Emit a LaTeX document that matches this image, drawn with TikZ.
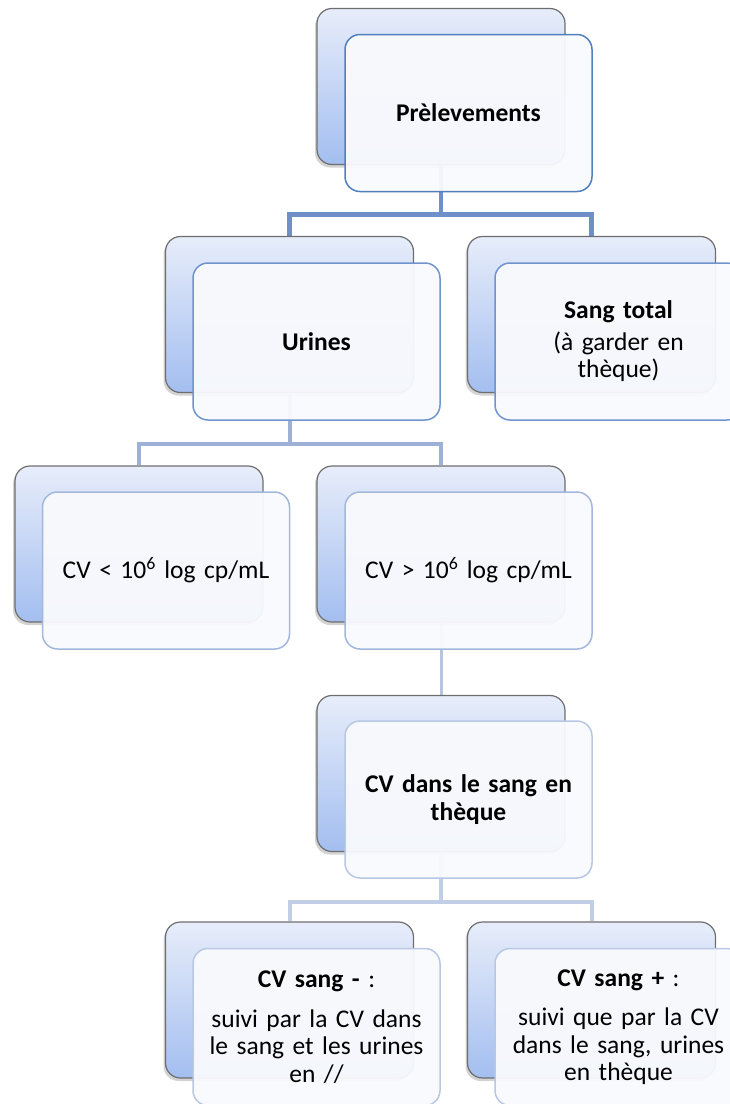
\documentclass[tikz,border=0pt]{standalone}
\usepackage{fontspec}
\setmainfont{Carlito}[WordSpace=0.7]
\usetikzlibrary{shadows,backgrounds}
\definecolor{backtop}{HTML}{E7EDFA}
\definecolor{backbot}{HTML}{A3BEF0}
\definecolor{backline}{HTML}{6E6E6E}
\definecolor{frontfill}{HTML}{F9FAFD}
\definecolor{borderone}{HTML}{4F7FBD}
\definecolor{bordertwo}{HTML}{7094CE}
\definecolor{borderthree}{HTML}{A3B7DD}
\definecolor{borderfour}{HTML}{B8C7E3}
\definecolor{lineone}{HTML}{6F8FC8}
\definecolor{linetwo}{HTML}{9DB1D7}
\definecolor{linethree}{HTML}{B7C5E1}
\definecolor{linefour}{HTML}{C2CEE6}
\tikzset{
	backbox/.style={draw=backline, line width=1.2pt, rounded corners=15pt,
		minimum width=248pt, minimum height=156pt, top color=backtop, bottom color=backbot,
		drop shadow={shadow xshift=-2pt, shadow yshift=-3pt, opacity=0.35}},
	frontbox/.style={rounded corners=15pt, minimum width=247pt, minimum height=157pt,
		fill=frontfill, fill opacity=0.95, text opacity=1, line width=1.5pt,
		align=center, text width=234pt, font=\fontsize{25.5}{27.5}\selectfont},
	link/.style={line width=4pt}
}

\begin{document}
\begin{tikzpicture}[x=1pt, y=-1pt]
		%%%%% START %%%%%
		\useasboundingbox (0, 0) rectangle (729, 1104);
		
		\node[backbox] (prelb) at (441, 86.5) {};
		\node[frontbox, draw=borderone] (prelf) at (468.5, 113) {\textbf{Prèlevements}};
		
		\node[backbox] (urinb) at (289.5, 314.5) {};
		\node[frontbox, draw=bordertwo] (urinf) at (316.5, 341.5) {\textbf{Urines}};
		\node[backbox] (sangb) at (591.5, 314.5) {};
		\node[frontbox, draw=bordertwo] (sangf) at (618.5, 341.5) {\textbf{Sang total}\\[4pt] (à garder en\\ thèque)};
		
		\node[backbox] (lowb) at (139, 544) {};
		\node[frontbox, draw=borderthree] (lowf) at (166, 570.5) {CV < 10\textsuperscript{6} log cp/mL};
		\node[backbox] (highb) at (441, 544) {};
		\node[frontbox, draw=borderthree] (highf) at (468.5, 570.5) {CV > 10\textsuperscript{6} log cp/mL};
		
		\node[backbox] (bloodb) at (441, 773.5) {};
		\node[frontbox, draw=borderfour] (bloodf) at (468.5, 799.5) {\textbf{CV dans le sang en}\\ \textbf{thèque}};
		
		\node[backbox] (negb) at (289.5, 1000) {};
		\node[frontbox, draw=borderfour] (negf) at (316.5, 1027) {\textbf{CV sang -} :\\[12pt] suivi par la CV dans\\ le sang et les urines\\ en //};
		\node[backbox] (posb) at (591.5, 1000) {};
		\node[frontbox, draw=borderfour] (posf) at (618.5, 1027) {\textbf{CV sang +} :\\[12pt] suivi que par la CV\\ dans le sang, urines\\ en thèque};
		
		\begin{scope}[on background layer]
			\draw[link, line width=4.7pt, color=lineone] (prelb.south) -- (prelb.south |- prelf.south) -- ++(0, 22) -| (urinb.north);
			\draw[link, line width=4.7pt, color=lineone] (prelb.south) -- (prelb.south |- prelf.south) -- ++(0, 22) -| (sangb.north);
			
			\draw[link, color=linetwo] (urinb.south) -- (urinb.south |- urinf.south) -- ++(0, 23) -| (lowb.north);
			\draw[link, color=linetwo] (urinb.south) -- (urinb.south |- urinf.south) -- ++(0, 23) -| (highb.north);
			
			\draw[link, line width=3pt, color=linethree] (highb.south) -- (bloodb.north);
			
			\draw[link, color=linefour] (bloodb.south) -- (bloodb.south |- bloodf.south) -- ++(0, 23) -| (negb.north);
			\draw[link, color=linefour] (bloodb.south) -- (bloodb.south |- bloodf.south) -- ++(0, 23) -| (posb.north);
		\end{scope}
		
		%%%%% END %%%%%
	\end{tikzpicture}
\end{document}
